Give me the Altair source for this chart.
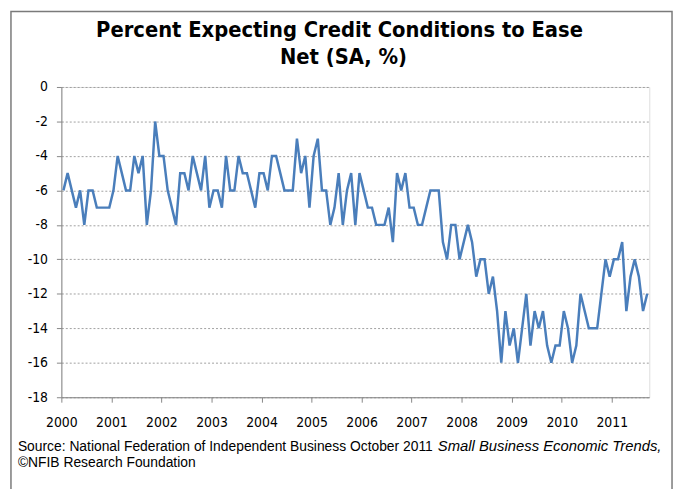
import altair as alt
import pandas as pd

# ---- data ----
start_year = 2000
values = [
    -6, -5, -6, -7, -6, -8, -6, -6, -7, -7, -7, -7,        # 2000
    -6, -4, -5, -6, -6, -4, -5, -4, -8, -6, -2, -4,        # 2001
    -4, -6, -7, -8, -5, -5, -6, -4, -5, -6, -4, -7,        # 2002
    -6, -6, -7, -4, -6, -6, -4, -5, -5, -6, -7, -5,        # 2003
    -5, -6, -4, -4, -5, -6, -6, -6, -3, -5, -4, -7,        # 2004
    -4, -3, -6, -6, -8, -7, -5, -8, -6, -5, -8, -5,        # 2005
    -6, -7, -7, -8, -8, -8, -7, -9, -5, -6, -5, -7,        # 2006
    -7, -8, -8, -7, -6, -6, -6, -9, -10, -8, -8, -10,      # 2007
    -9, -8, -9, -11, -10, -10, -12, -11, -13, -16, -13, -15,  # 2008
    -14, -16, -14, -12, -15, -13, -14, -13, -15, -16, -15, -15,  # 2009
    -13, -14, -16, -15, -12, -13, -14, -14, -14, -12, -10, -11,  # 2010
    -10, -10, -9, -13, -11, -10, -11, -13, -12,            # 2011 (Jan-Sep)
]
year_ticks = list(range(2000, 2012))
y_ticks = list(range(-18, 1, 2))

title_lines = ["Percent Expecting Credit Conditions to Ease", "Net (SA, %)"]
source_main = "Source: National Federation of Independent Business October 2011"
source_italic = "Small Business Economic Trends,"
source_line2 = "\u00a9NFIB Research Foundation"

NARROW = "Liberation Sans Narrow, Arial Narrow, DejaVu Sans Condensed, sans-serif"
SANS = "Liberation Sans, Arial, sans-serif"

df = pd.DataFrame({
    "t": [start_year + (i + 0.5) / 12 for i in range(len(values))],
    "v": values,
})

W, H = 595, 314

line = alt.Chart(df).mark_line(color="#4a7ebb", strokeWidth=2.5).encode(
    x=alt.X("t:Q",
            scale=alt.Scale(domain=[start_year, start_year + 141 / 12], nice=False, zero=False),
            axis=alt.Axis(values=year_ticks, format="d", title=None, grid=False,
                          domainColor="#868686", tickColor="#868686", tickSize=5,
                          labelFont=NARROW, labelFontSize=14, labelColor="black",
                          labelPadding=14, labelFlush=False)),
    y=alt.Y("v:Q",
            scale=alt.Scale(domain=[-18, 0], nice=False),
            axis=alt.Axis(values=y_ticks, title=None, grid=True,
                          gridColor="#a0a0a0", gridDash=[2, 2], gridWidth=1,
                          domainColor="#868686", tickColor="#868686", tickSize=5,
                          labelExpr="datum.value + ''",
                          labelFont=NARROW, labelFontSize=14, labelColor="black",
                          labelPadding=9)),
)

def text_layer(s, x, y, **kw):
    return alt.Chart(pd.DataFrame({"s": [s]})).mark_text(**kw).encode(
        x=alt.value(x), y=alt.value(y), text="s:N")

title1 = text_layer(title_lines[0], 281.5, -51, font=NARROW, fontSize=22,
                    fontWeight="bold", align="center", baseline="alphabetic", color="black")
title2 = text_layer(title_lines[1], 285.5, -23.5, font=NARROW, fontSize=22,
                    fontWeight="bold", align="center", baseline="alphabetic", color="black")
src1 = text_layer(source_main, -44, 368, font=SANS, fontSize=14,
                  align="left", baseline="alphabetic", color="black")
src1i = text_layer(source_italic, 381, 368, font=SANS, fontSize=15, fontStyle="italic",
                   align="left", baseline="alphabetic", color="black")
src2 = text_layer(source_line2, -44, 385, font=SANS, fontSize=14,
                  align="left", baseline="alphabetic", color="black")

border = alt.Chart(pd.DataFrame({"b": [0]})).mark_rect(
    fill=None, stroke="#7a7a7a", strokeWidth=1.5).encode(
    x=alt.value(-51), x2=alt.value(618), y=alt.value(-76.5), y2=alt.value(420))

chart = alt.layer(border, line, title1, title2, src1, src1i, src2).properties(
    width=W, height=H,
    autosize=alt.AutoSizeParams(type="none"),
    padding={"left": 54, "top": 77, "right": 25, "bottom": 96},
).configure_view(stroke=None).configure(background="white")

chart.save("out.html", embed_options={"renderer": "svg", "actions": False})
